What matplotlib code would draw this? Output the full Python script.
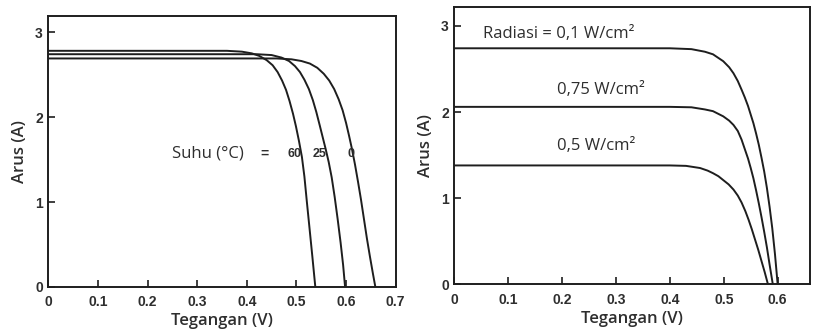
import numpy as np
import matplotlib
matplotlib.use("Agg")
import matplotlib.pyplot as plt

# Kurva I-V terhadap suhu (panel kiri)
v_60 = [0.0, 0.36, 0.39, 0.41, 0.425, 0.44, 0.452, 0.462, 0.471, 0.479, 0.486, 0.493, 0.499,
        0.505, 0.511, 0.516, 0.521, 0.526, 0.532, 0.538]
i_60 = [2.78, 2.78, 2.77, 2.75, 2.72, 2.67, 2.61, 2.53, 2.43, 2.32, 2.19, 2.04, 1.89,
        1.72, 1.53, 1.30, 1.00, 0.71, 0.36, 0.0]
v_25 = [0.0, 0.42, 0.45, 0.47, 0.485, 0.497, 0.507, 0.516, 0.525, 0.533, 0.540, 0.547, 0.553,
        0.559, 0.565, 0.571, 0.577, 0.583, 0.589, 0.594, 0.598]
i_25 = [2.74, 2.74, 2.73, 2.70, 2.66, 2.60, 2.53, 2.44, 2.33, 2.20, 2.06, 1.90, 1.76,
        1.62, 1.47, 1.29, 1.06, 0.80, 0.52, 0.26, 0.0]
v_0 = [0.0, 0.46, 0.49, 0.51, 0.527, 0.542, 0.555, 0.566, 0.576, 0.585, 0.593, 0.600, 0.606,
       0.612, 0.618, 0.624, 0.630, 0.636, 0.642, 0.648, 0.654, 0.659]
i_0 = [2.69, 2.69, 2.68, 2.66, 2.63, 2.58, 2.51, 2.43, 2.33, 2.21, 2.08, 1.93, 1.78,
       1.62, 1.44, 1.24, 1.03, 0.80, 0.57, 0.36, 0.16, 0.0]

# Kurva I-V terhadap radiasi (panel kanan)
v_r1 = [0.0, 0.40, 0.44, 0.465, 0.48, 0.499, 0.51, 0.518, 0.526, 0.533, 0.539, 0.545, 0.550,
        0.555, 0.560, 0.565, 0.570, 0.575, 0.580, 0.585, 0.590, 0.595, 0.600]
i_r1 = [2.74, 2.74, 2.73, 2.70, 2.67, 2.59, 2.52, 2.45, 2.36, 2.26, 2.17, 2.07, 1.97,
        1.87, 1.75, 1.62, 1.47, 1.31, 1.12, 0.90, 0.65, 0.35, 0.0]
v_r075 = [0.0, 0.40, 0.44, 0.465, 0.48, 0.499, 0.51, 0.518, 0.526, 0.533, 0.539, 0.545, 0.550,
          0.555, 0.560, 0.565, 0.570, 0.575, 0.580, 0.585, 0.591]
i_r075 = [2.06, 2.06, 2.055, 2.03, 2.01, 1.95, 1.90, 1.85, 1.78, 1.68, 1.57, 1.46, 1.35,
          1.23, 1.09, 0.94, 0.78, 0.61, 0.43, 0.23, 0.0]
v_r05 = [0.0, 0.40, 0.43, 0.456, 0.47, 0.48, 0.49, 0.499, 0.509, 0.518, 0.526, 0.533, 0.540,
         0.546, 0.552, 0.558, 0.564, 0.570, 0.576, 0.582]
i_r05 = [1.38, 1.38, 1.375, 1.35, 1.32, 1.29, 1.255, 1.21, 1.16, 1.10, 1.03, 0.95, 0.85,
         0.75, 0.64, 0.52, 0.40, 0.27, 0.14, 0.0]

xticks_kiri = [0, 0.1, 0.2, 0.3, 0.4, 0.5, 0.6, 0.7]
xticks_kanan = [0, 0.1, 0.2, 0.3, 0.4, 0.5, 0.6]
yticks = [0, 1, 2, 3]
suhu = ["60", "25", "0"]
radiasi = ["Radiasi = 0,1 W/cm²", "0,75 W/cm²", "0,5 W/cm²"]

INK = "#1e1e1e"
TXT = "#2e2e2e"
tick_font = dict(family="Liberation Sans", weight="bold", size=10, color=TXT)
label_font = dict(family="Open Sans", weight="semibold", size=12, color=TXT)
teks = dict(family="Open Sans", size=12, color=TXT)


def gaya_sumbu(ax, xticks, xmax, ymax):
    ax.set_xlim(0, xmax)
    ax.set_ylim(0, ymax)
    ax.set_xticks(xticks)
    ax.set_yticks(yticks)
    ax.set_xticklabels([("%g" % t) for t in xticks], fontdict=tick_font)
    ax.set_yticklabels([str(t) for t in yticks], fontdict=tick_font)
    ax.tick_params(direction="in", length=5, width=1.2, color=INK)
    ax.tick_params(axis="x", pad=6)
    ax.tick_params(axis="y", pad=4)
    for s in ax.spines.values():
        s.set_linewidth(1.4)
        s.set_color(INK)
    ax.set_xlabel("Tegangan (V)", fontdict=label_font, labelpad=3)
    ax.set_ylabel("Arus (A)", fontdict=label_font, labelpad=5)


fig = plt.figure(figsize=(8.22, 3.35), dpi=100)

ax1 = fig.add_axes([0.0588, 0.1433, 0.4226, 0.809])
for v, i in [(v_60, i_60), (v_25, i_25), (v_0, i_0)]:
    ax1.plot(v, i, color=INK, lw=1.4, solid_joinstyle="round")
gaya_sumbu(ax1, xticks_kiri, 0.7, 3.19)
ax1.text(0.249, 1.57, "Suhu (°C)", fontdict=teks, va="center")
ax1.text(0.427, 1.57, "=", fontdict=dict(family="Liberation Sans", weight="bold", size=10, color=TXT), va="center")
for x, s in zip([0.481, 0.533, 0.602], suhu):
    ax1.text(x, 1.57, s, fontdict=dict(family="Liberation Sans", weight="bold", size=9, color=TXT), va="center")

ax2 = fig.add_axes([0.5527, 0.1513, 0.4327, 0.828])
for v, i in [(v_r1, i_r1), (v_r075, i_r075), (v_r05, i_r05)]:
    ax2.plot(v, i, color=INK, lw=1.4, solid_joinstyle="round")
gaya_sumbu(ax2, xticks_kanan, 0.66, 3.22)
for (x, y), s in zip([(0.053, 2.91), (0.19, 2.26), (0.19, 1.60)], radiasi):
    ax2.text(x, y, s, fontdict=teks, va="center")

fig.savefig("out.png", dpi=100)
